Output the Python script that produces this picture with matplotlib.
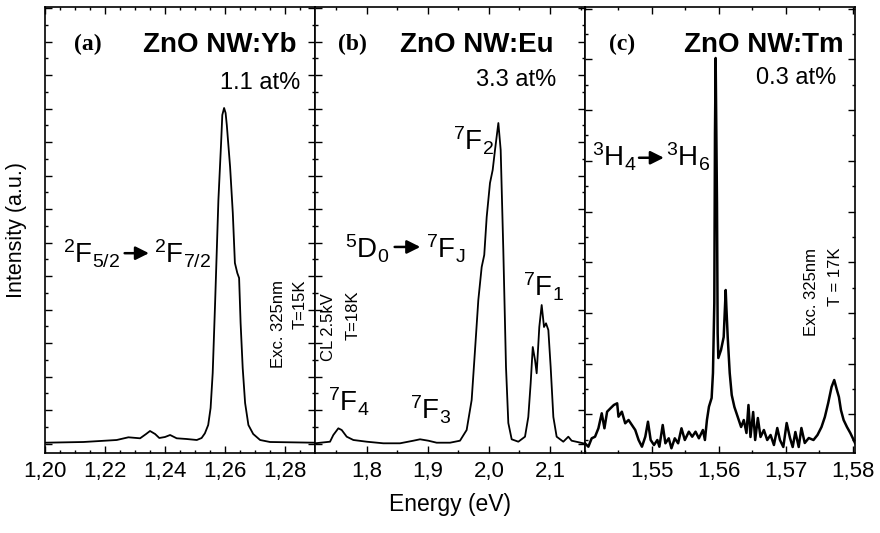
import matplotlib
matplotlib.use('Agg')
import matplotlib.pyplot as plt
from matplotlib.ticker import MultipleLocator, NullFormatter

plt.rcParams['font.family'] = ['Liberation Sans', 'DejaVu Sans']
plt.rcParams['mathtext.fontset'] = 'custom'
plt.rcParams['mathtext.rm'] = 'Liberation Sans'
plt.rcParams['mathtext.it'] = 'Liberation Sans'

# (a) ZnO NW:Yb
e_yb = [1.2000, 1.2128, 1.2239, 1.2278, 1.2317, 1.2337, 1.2350, 1.2367, 1.2381,
        1.2400, 1.2417, 1.2439, 1.2472, 1.2506, 1.2522, 1.2533, 1.2544, 1.2552,
        1.2559, 1.2567, 1.2578, 1.2587, 1.2591, 1.2597, 1.2602, 1.2606, 1.2617,
        1.2626, 1.2633, 1.2641, 1.2647, 1.2652, 1.2659, 1.2667, 1.2678, 1.2694,
        1.2717, 1.2750, 1.2900]
i_yb = [10.3, 11, 13, 15.7, 14.7, 19, 22, 19, 15,
        16, 18, 14.7, 14, 13, 15, 19.7, 28, 45,
        80, 150, 253, 310, 338, 345, 340, 328, 286,
        240, 190, 180, 175, 130, 85, 50, 28, 19,
        13, 11, 10.3]

# (b) ZnO NW:Eu
e_eu = [1.7154, 1.7400, 1.7454, 1.7536, 1.7591, 1.7673, 1.7782, 1.8000, 1.8273,
        1.8545, 1.8764, 1.8873, 1.9009, 1.9145, 1.9364, 1.9527, 1.9636, 1.9718,
        1.9773, 1.9827, 1.9882, 1.9924, 1.9964, 2.0018, 2.0062, 2.0100, 2.0155,
        2.0193, 2.0236, 2.0280, 2.0318, 2.0373, 2.0482, 2.0591, 2.0645, 2.0684,
        2.0718, 2.0755, 2.0782, 2.0825, 2.0864, 2.0902, 2.0935, 2.0973, 2.1011,
        2.1055, 2.1109, 2.1218, 2.1300, 2.1354, 2.1545]
i_eu = [9.7, 11.3, 18, 24.7, 23, 16.3, 13, 11.3, 9.7,
        9.7, 12.3, 13.7, 12.3, 10.3, 10.3, 12.3, 23, 53,
        103, 153, 186, 198, 236, 270, 283, 303, 330,
        303, 203, 86, 30, 13.7, 11.3, 16.3, 36, 70,
        106, 93, 79.7, 126, 148, 126, 129.7, 123, 86,
        36, 16.3, 11.3, 16.3, 12.3, 9.7]

# (c) ZnO NW:Tm
e_tm = [1.5400, 1.5405, 1.5410, 1.5415, 1.5420, 1.5425, 1.5429, 1.5433, 1.5438,
        1.5443, 1.5448, 1.5450, 1.5455, 1.5460, 1.5465, 1.5470, 1.5475, 1.5480,
        1.5485, 1.5490, 1.5494, 1.5498, 1.5503, 1.5508, 1.5511, 1.5516, 1.5520,
        1.5525, 1.5529, 1.5534, 1.5539, 1.5544, 1.5549, 1.5555, 1.5560, 1.5565,
        1.5570, 1.5576, 1.5579, 1.5582, 1.5585, 1.5589, 1.5591, 1.5593, 1.5594,
        1.5595, 1.5597, 1.5598, 1.5599, 1.5603, 1.5607, 1.5610, 1.5611, 1.5613,
        1.5616, 1.5619, 1.5623, 1.5628, 1.5633, 1.5637, 1.5641, 1.5644, 1.5647,
        1.5651, 1.5654, 1.5658, 1.5662, 1.5667, 1.5672, 1.5677, 1.5682, 1.5687,
        1.5691, 1.5696, 1.5701, 1.5706, 1.5710, 1.5714, 1.5719, 1.5723, 1.5728,
        1.5734, 1.5741, 1.5747, 1.5753, 1.5758, 1.5763, 1.5768, 1.5772, 1.5776,
        1.5779, 1.5782, 1.5786, 1.5791, 1.5796, 1.5801, 1.5803]
i_tm = [9.7, 6.3, 14.7, 16.3, 24.7, 39.7, 24.7, 41.3, 44.7,
        48, 49.7, 36.3, 41.3, 29.7, 33, 28, 23, 13,
        6.3, 16.3, 31.3, 13, 8, 13, 6.3, 28, 9.7,
        14.7, 4.7, 14.7, 9.7, 24.7, 13, 21.3, 16.3, 21.3,
        14.7, 23, 13, 33, 46.3, 55, 80, 150, 320,
        395, 250, 120, 95, 103, 116, 163, 146, 116,
        80, 58, 46, 36, 26, 33, 20, 48, 16,
        41, 13, 35, 16, 23, 13, 18, 8, 25,
        13, 6, 30, 15, 6, 21, 6, 25, 10,
        15, 13, 18, 26, 36, 50, 66, 73, 63,
        56, 43, 33, 26, 20, 13, 10]

ticks_a = [1.20, 1.22, 1.24, 1.26, 1.28]
labels_a = ['1,20', '1,22', '1,24', '1,26', '1,28']
ticks_b = [1.8, 1.9, 2.0, 2.1]
labels_b = ['1,8', '1,9', '2,0', '2,1']
ticks_c = [1.55, 1.56, 1.57, 1.58]
labels_c = ['1,55', '1,56', '1,57', '1,58']

fig = plt.figure(figsize=(8.8, 5.33), dpi=100)
W, H = 880.0, 533.0
bot = 1 - 453 / H
hgt = 446 / H
axa = fig.add_axes([45 / W, bot, 270 / W, hgt])
axb = fig.add_axes([315 / W, bot, 270 / W, hgt])
axc = fig.add_axes([585 / W, bot, 270 / W, hgt])

axa.plot(e_yb, i_yb, color='black', lw=1.3)
axb.plot(e_eu, i_eu, color='black', lw=1.3)
axc.plot(e_tm, i_tm, color='black', lw=1.8)

axa.set_xlim(1.20, 1.29)
axb.set_xlim(1.7154, 2.1573)
axc.set_xlim(1.54, 1.5803)

for ax, t, lab, mn in [(axa, ticks_a, labels_a, 0.005),
                       (axb, ticks_b, labels_b, 0.05),
                       (axc, ticks_c, labels_c, 0.005)]:
    ax.set_ylim(0, 446)
    ax.set_xticks(t)
    ax.set_xticklabels(lab, fontsize=16)
    ax.xaxis.set_minor_locator(MultipleLocator(mn))
    ax.tick_params(which='both', direction='in', top=True, right=True,
                   left=True, width=1.0, labelleft=False)
    ax.tick_params(which='major', length=5, pad=6)
    ax.tick_params(which='minor', length=2.5)
    for s in ax.spines.values():
        s.set_linewidth(1.2)

for ax in (axa, axb):
    ax.yaxis.set_major_locator(MultipleLocator(33.5, offset=9.5))
    ax.yaxis.set_minor_locator(MultipleLocator(16.75, offset=9.5))
axc.yaxis.set_major_locator(MultipleLocator(50.7, offset=38.7))
axc.yaxis.set_minor_locator(MultipleLocator(25.35, offset=13.35))
for ax in (axa, axb, axc):
    ax.yaxis.set_major_formatter(NullFormatter())

axa.set_ylabel('Intensity (a.u.)', fontsize=15.5)
axa.yaxis.set_label_coords(-0.067, 0.5)
axb.set_xlabel('Energy (eV)', fontsize=16.5, labelpad=8)

arrow = dict(arrowstyle='-|>', lw=1.8, color='black', mutation_scale=20,
             shrinkA=0, shrinkB=0)
serif = ['Liberation Serif', 'DejaVu Serif']
lvl = 20

# panel (a)
axa.text(0.157, 0.915, '(a)', transform=axa.transAxes, ha='center', va='center',
         fontsize=17, fontweight='bold', family=serif)
axa.text(0.932, 0.915, 'ZnO NW:Yb', transform=axa.transAxes, ha='right', va='center',
         fontsize=20, fontweight='bold')
axa.text(0.944, 0.83, '1.1 at%', transform=axa.transAxes, ha='right', va='center', fontsize=17)
axa.text(0.066, 0.426, r'$^{2}$F$_{5/2}$', transform=axa.transAxes, ha='left',
         va='baseline', fontsize=lvl)
axa.annotate('', xy=(0.385, 0.448), xytext=(0.295, 0.448), xycoords='axes fraction',
             arrowprops=arrow)
axa.text(0.405, 0.426, r'$^{2}$F$_{7/2}$', transform=axa.transAxes, ha='left',
         va='baseline', fontsize=lvl)
axa.text(0.863, 0.388, 'Exc. 325nm', transform=axa.transAxes, rotation=90,
         ha='center', va='top', fontsize=12)
axa.text(0.944, 0.388, 'T=15K', transform=axa.transAxes, rotation=90,
         ha='center', va='top', fontsize=12)

# panel (b)
axb.text(0.139, 0.915, '(b)', transform=axb.transAxes, ha='center', va='center',
         fontsize=17, fontweight='bold', family=serif)
axb.text(0.883, 0.915, 'ZnO NW:Eu', transform=axb.transAxes, ha='right', va='center',
         fontsize=20, fontweight='bold')
axb.text(0.895, 0.836, '3.3 at%', transform=axb.transAxes, ha='right', va='center', fontsize=17)
axb.text(0.512, 0.679, r'$^{7}$F$_{2}$', transform=axb.transAxes, ha='left',
         va='baseline', fontsize=lvl)
axb.text(0.112, 0.437, r'$^{5}$D$_{0}$', transform=axb.transAxes, ha='left',
         va='baseline', fontsize=lvl)
axb.annotate('', xy=(0.39, 0.462), xytext=(0.295, 0.462), xycoords='axes fraction',
             arrowprops=arrow)
axb.text(0.412, 0.437, r'$^{7}$F$_{J}$', transform=axb.transAxes, ha='left',
         va='baseline', fontsize=lvl)
axb.text(0.772, 0.35, r'$^{7}$F$_{1}$', transform=axb.transAxes, ha='left',
         va='baseline', fontsize=lvl)
axb.text(0.049, 0.093, r'$^{7}$F$_{4}$', transform=axb.transAxes, ha='left',
         va='baseline', fontsize=lvl)
axb.text(0.352, 0.074, r'$^{7}$F$_{3}$', transform=axb.transAxes, ha='left',
         va='baseline', fontsize=lvl)
axb.text(0.049, 0.359, 'CL 2.5kV', transform=axb.transAxes, rotation=90,
         ha='center', va='top', fontsize=12)
axb.text(0.142, 0.365, 'T=18K', transform=axb.transAxes, rotation=90,
         ha='center', va='top', fontsize=12)

# panel (c)
axc.text(0.136, 0.915, '(c)', transform=axc.transAxes, ha='center', va='center',
         fontsize=17, fontweight='bold', family=serif)
axc.text(0.957, 0.915, 'ZnO NW:Tm', transform=axc.transAxes, ha='right', va='center',
         fontsize=20, fontweight='bold')
axc.text(0.932, 0.84, '0.3 at%', transform=axc.transAxes, ha='right', va='center', fontsize=17)
axc.text(0.025, 0.642, r'$^{3}$H$_{4}$', transform=axc.transAxes, ha='left',
         va='baseline', fontsize=lvl)
axc.annotate('', xy=(0.292, 0.662), xytext=(0.2, 0.662), xycoords='axes fraction',
             arrowprops=arrow)
axc.text(0.30, 0.642, r'$^{3}$H$_{6}$', transform=axc.transAxes, ha='left',
         va='baseline', fontsize=lvl)
axc.text(0.84, 0.46, 'Exc. 325nm', transform=axc.transAxes, rotation=90,
         ha='center', va='top', fontsize=12)
axc.text(0.926, 0.46, 'T = 17K', transform=axc.transAxes, rotation=90,
         ha='center', va='top', fontsize=12)

fig.savefig('out.png', dpi=100)
